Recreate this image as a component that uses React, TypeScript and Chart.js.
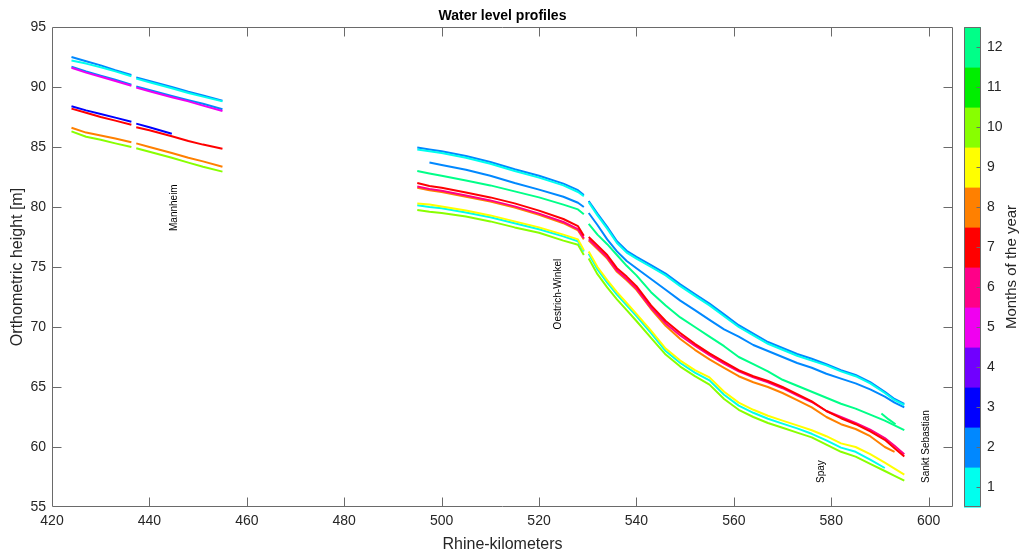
import React, { useEffect, useRef } from "react";
import { Chart, registerables } from "chart.js";

Chart.register(...registerables);

const FONT = "'Liberation Sans', Arial, Helvetica, sans-serif";
const AXIS_COLOR = "#6a6a6a";
const TEXT_COLOR = "#262626";

const monthLabels = ["1", "2", "3", "4", "5", "6", "7", "8", "9", "10", "11", "12"];
const monthColors = [
  "#00FFEE", "#0088FF", "#0000FF", "#7000FF", "#F000F0", "#FF0088",
  "#FF0000", "#FF8000", "#FFFF00", "#88FF00", "#00EE00", "#00FF88",
];

const xTickValues = [420, 440, 460, 480, 500, 520, 540, 560, 580, 600];
const yTickValues = [55, 60, 65, 70, 75, 80, 85, 90, 95];

// Upstream reach (Mannheim)
const upperKm = [424, 427, 430, 433, 436.3, 436.8, 437.3, 440, 444.6, 448, 451, 455];
const upperFebA = [92.5, 92.15, 91.8, 91.4, 91.0, null, 90.8, 90.5, 90.0, 89.6, 89.3, 88.85];
const upperJan = [92.2, 91.95, 91.65, 91.3, 90.9, null, 90.7, 90.4, 89.9, 89.5, 89.2, 88.8];
const upperMay = [91.6, 91.2, 90.85, 90.5, 90.1, null, 89.95, 89.65, 89.15, 88.8, 88.45, 88.0];
const upperFebB = [91.7, 91.3, 90.95, 90.6, 90.2, null, 90.05, 89.75, 89.25, 88.9, 88.6, 88.15];
const upperMar = [88.4, 88.05, 87.75, 87.45, 87.1, null, 86.95, 86.65, 86.1, null, null, null];
const upperJul = [88.2, 87.85, 87.5, 87.2, 86.85, null, 86.65, 86.4, 85.9, 85.5, 85.2, 84.85];
const upperAug = [86.6, 86.2, 85.95, 85.7, 85.4, null, 85.3, 85.0, 84.5, 84.1, 83.8, 83.35];
const upperOct = [86.3, 85.85, 85.6, 85.3, 85.0, null, 84.9, 84.6, 84.1, 83.7, 83.35, 82.95];

// Middle Rhine reach
const lowerKm = [495, 497.5, 500, 505, 510, 515, 520, 525, 528, 529.2, 529.7, 530.2, 532, 534, 536, 538, 540, 543, 546, 549, 552, 555, 558, 561, 564, 567, 570, 573, 576, 579, 582, 585, 588, 591, 593, 595];
const lowerJanA = [84.8, 84.65, 84.5, 84.1, 83.6, 83.0, 82.45, 81.8, 81.25, 80.9, null, 80.4, 79.3, 78.2, 77.0, 76.2, 75.7, 75.0, 74.3, 73.4, 72.6, 71.8, 70.9, 70.0, 69.3, 68.6, 68.1, 67.6, 67.2, 66.8, 66.3, 65.9, 65.3, 64.5, 63.9, 63.5];
const lowerFebA = [84.95, 84.8, 84.65, 84.25, 83.75, 83.15, 82.6, 81.95, 81.4, 81.0, null, 80.5, 79.45, 78.35, 77.15, 76.35, 75.85, 75.15, 74.45, 73.55, 72.75, 71.95, 71.05, 70.15, 69.45, 68.75, 68.25, 67.75, 67.35, 66.9, 66.4, 66.0, 65.4, 64.6, 64.0, 63.6];
const lowerFebB = [null, 83.7, 83.5, 83.1, 82.6, 82.0, 81.45, 80.85, 80.35, 80.0, null, 79.5, 78.5, 77.3, 76.3, 75.5, 74.9, 74.0, 73.1, 72.2, 71.4, 70.6, 69.8, 69.2, 68.5, 68.0, 67.5, 67.0, 66.6, 66.1, 65.7, 65.3, 64.8, 64.2, 63.7, 63.3];
const lowerDec = [83.0, 82.8, 82.6, 82.2, 81.8, 81.3, 80.8, 80.2, 79.8, 79.4, null, 78.6, 77.7, 76.9, 76.0, 75.1, 74.3, 72.9, 71.8, 70.8, 70.0, 69.2, 68.4, 67.5, 66.9, 66.3, 65.6, 65.1, 64.6, 64.1, 63.6, 63.2, 62.7, 62.2, 61.8, 61.4];
const lowerJul = [82.0, 81.75, 81.6, 81.2, 80.8, 80.3, 79.7, 79.0, 78.4, 77.6, null, 77.5, 76.8, 76.0, 74.9, 74.2, 73.4, 71.8, 70.5, 69.5, 68.6, 67.8, 67.1, 66.4, 65.9, 65.5, 65.0, 64.4, 63.8, 63.0, 62.4, 61.9, 61.3, 60.6, 59.9, 59.2];
const lowerJun = [81.7, 81.5, 81.35, 80.95, 80.55, 80.05, 79.45, 78.75, 78.15, 77.4, null, 77.3, 76.6, 75.8, 74.7, 74.0, 73.2, 71.6, 70.3, 69.3, 68.45, 67.65, 66.95, 66.3, 65.8, 65.4, 64.9, 64.3, 63.75, 63.0, 62.5, 62.0, 61.45, 60.75, 60.1, 59.4];
const lowerAug = [81.6, 81.4, 81.25, 80.85, 80.45, 79.95, 79.35, 78.65, 78.05, 77.3, null, 77.2, 76.5, 75.7, 74.6, 73.9, 73.1, 71.5, 70.1, 69.0, 68.1, 67.3, 66.6, 65.9, 65.4, 65.0, 64.5, 63.9, 63.3, 62.5, 61.9, 61.5, 60.9, 60.0, 59.6, null];
const lowerSep = [80.3, 80.2, 80.05, 79.7, 79.3, 78.8, 78.3, 77.7, 77.3, 76.4, null, 76.3, 75.0, 73.9, 72.9, 72.0, 71.1, 69.7, 68.2, 67.2, 66.4, 65.8, 64.6, 63.7, 63.1, 62.6, 62.2, 61.8, 61.4, 60.9, 60.3, 60.0, 59.4, 58.7, 58.2, 57.7];
const lowerJanB = [80.15, 80.0, 79.9, 79.55, 79.15, 78.65, 78.15, 77.55, 77.15, 76.3, null, 76.1, 74.8, 73.7, 72.7, 71.8, 70.9, 69.5, 68.0, 67.0, 66.2, 65.55, 64.35, 63.45, 62.85, 62.35, 61.95, 61.55, 61.1, 60.55, 59.95, 59.6, 58.95, 58.25, null, null];
const lowerOct = [79.75, 79.6, 79.5, 79.2, 78.8, 78.3, 77.85, 77.2, 76.85, 76.0, null, 75.7, 74.4, 73.3, 72.3, 71.4, 70.5, 69.1, 67.7, 66.7, 65.9, 65.2, 64.0, 63.1, 62.5, 62.0, 61.6, 61.2, 60.8, 60.2, 59.6, 59.2, 58.6, 58.0, 57.6, 57.2];
const extraDecKm = [590.3, 591.8, 593.2];
const extraDec = [62.8, 62.3, 61.9];

const placeNames = ["Mannheim", "Oestrich-Winkel", "Spay", "Sankt Sebastian"];
const placeKm = [445.2, 523.9, 578.0, 599.5];
const placeLevel = [78.0, 69.8, 57.0, 57.0];

function series(km: number[], vals: (number | null)[], month: number) {
  return {
    label: "Month " + month,
    data: km.map((k, i) => ({ x: k, y: vals[i] })),
    borderColor: monthColors[month - 1],
    backgroundColor: monthColors[month - 1],
    borderWidth: 2,
    pointRadius: 0,
    pointHoverRadius: 0,
    fill: false,
    spanGaps: false,
    tension: 0,
    borderJoinStyle: "round" as const,
  };
}

const decorPlugin = {
  id: "decor",
  afterDraw(chart: any) {
    const { ctx, chartArea: a, scales } = chart;
    const xs = scales.x;
    const ys = scales.y;
    const TICK = 9;
    ctx.save();
    // box
    ctx.strokeStyle = AXIS_COLOR;
    ctx.lineWidth = 1;
    const L = Math.round(a.left) + 0.5;
    const T = Math.round(a.top) + 0.5;
    const R = Math.round(a.right) - 0.5;
    const B = Math.round(a.bottom) - 0.5;
    ctx.beginPath();
    ctx.rect(L, T, R - L, B - T);
    for (const t of xTickValues) {
      const px = Math.round(xs.getPixelForValue(t)) + 0.5;
      if (px <= L + 1 || px >= R - 1) continue;
      ctx.moveTo(px, B);
      ctx.lineTo(px, B - TICK);
      ctx.moveTo(px, T);
      ctx.lineTo(px, T + TICK);
    }
    for (const t of yTickValues) {
      const py = Math.round(ys.getPixelForValue(t)) + 0.5;
      if (py <= T + 1 || py >= B - 1) continue;
      ctx.moveTo(L, py);
      ctx.lineTo(L + TICK, py);
      ctx.moveTo(R, py);
      ctx.lineTo(R - TICK, py);
    }
    ctx.stroke();

    // place annotations
    ctx.fillStyle = "#000";
    ctx.font = "10px " + FONT;
    ctx.textAlign = "left";
    ctx.textBaseline = "middle";
    placeNames.forEach((name, i) => {
      const px = xs.getPixelForValue(placeKm[i]);
      const py = ys.getPixelForValue(placeLevel[i]);
      ctx.save();
      ctx.translate(px, py);
      ctx.rotate(-Math.PI / 2);
      ctx.fillText(name, 0, 0);
      ctx.restore();
    });

    // title
    ctx.fillStyle = "#000";
    ctx.font = "bold 14px " + FONT;
    ctx.textAlign = "center";
    ctx.textBaseline = "middle";
    ctx.fillText("Water level profiles", (a.left + a.right) / 2, 16);

    // axis titles
    ctx.fillStyle = TEXT_COLOR;
    ctx.font = "16px " + FONT;
    ctx.fillText("Rhine-kilometers", (a.left + a.right) / 2, 545);
    ctx.save();
    ctx.translate(18, (a.top + a.bottom) / 2);
    ctx.rotate(-Math.PI / 2);
    ctx.fillText("Orthometric height [m]", 0, 0);
    ctx.restore();

    // colorbar
    const cbLeft = Math.round(a.right) + 11;
    const cbWidth = 17;
    const segH = (a.bottom - a.top) / 12;
    for (let i = 0; i < 12; i++) {
      ctx.fillStyle = monthColors[i];
      const yTop = a.bottom - (i + 1) * segH;
      ctx.fillRect(cbLeft, yTop, cbWidth, segH + 0.6);
    }
    ctx.strokeStyle = AXIS_COLOR;
    ctx.beginPath();
    ctx.rect(cbLeft + 0.5, T, cbWidth - 1, B - T);
    for (let i = 0; i < 12; i++) {
      const yc = Math.round(a.bottom - (i + 0.5) * segH) + 0.5;
      ctx.moveTo(cbLeft + cbWidth - 0.5, yc);
      ctx.lineTo(cbLeft + cbWidth - 4.5, yc);
    }
    ctx.stroke();
    ctx.fillStyle = TEXT_COLOR;
    ctx.font = "14px " + FONT;
    ctx.textAlign = "left";
    for (let i = 0; i < 12; i++) {
      const yc = a.bottom - (i + 0.5) * segH;
      ctx.fillText(monthLabels[i], cbLeft + cbWidth + 6, yc);
    }
    ctx.font = "15px " + FONT;
    ctx.textAlign = "center";
    ctx.save();
    ctx.translate(1012, (a.top + a.bottom) / 2);
    ctx.rotate(-Math.PI / 2);
    ctx.fillText("Months of the year", 0, 0);
    ctx.restore();

    ctx.restore();
  },
};

export default function App() {
  const ref = useRef<HTMLCanvasElement>(null);
  useEffect(() => {
    const datasets = [
      series(upperKm, upperMar, 3),
      series(upperKm, upperJul, 7),
      series(upperKm, upperMay, 5),
      series(upperKm, upperFebB, 2),
      series(upperKm, upperJan, 1),
      series(upperKm, upperFebA, 2),
      series(upperKm, upperAug, 8),
      series(upperKm, upperOct, 10),
      series(lowerKm, lowerJul, 7),
      series(lowerKm, lowerJun, 6),
      series(lowerKm, lowerAug, 8),
      series(lowerKm, lowerSep, 9),
      series(lowerKm, lowerJanB, 1),
      series(lowerKm, lowerOct, 10),
      series(lowerKm, lowerDec, 12),
      series(extraDecKm, extraDec, 12),
      series(lowerKm, lowerFebB, 2),
      series(lowerKm, lowerJanA, 1),
      series(lowerKm, lowerFebA, 2),
    ];
    const chart = new Chart(ref.current as HTMLCanvasElement, {
      type: "line",
      data: { datasets: datasets as any },
      options: {
        animation: false,
        responsive: true,
        maintainAspectRatio: false,
        parsing: true,
        events: [],
        layout: { padding: { left: 0, top: 27, right: 67, bottom: 0 } },
        plugins: {
          legend: { display: false },
          tooltip: { enabled: false },
          title: { display: false },
        },
        scales: {
          x: {
            type: "linear",
            min: 420,
            max: 605,
            afterBuildTicks: (scale: any) => {
              scale.ticks = xTickValues.map((v) => ({ value: v }));
            },
            afterFit: (scale: any) => {
              scale.height = 49;
            },
            grid: { display: false, drawTicks: false },
            border: { display: false },
            ticks: {
              padding: 6,
              maxRotation: 0,
              autoSkip: false,
              color: TEXT_COLOR,
              font: { family: FONT, size: 14 },
              callback: (v: any) => String(v),
            },
          },
          y: {
            type: "linear",
            min: 55,
            max: 95,
            afterBuildTicks: (scale: any) => {
              scale.ticks = yTickValues.map((v) => ({ value: v }));
            },
            afterFit: (scale: any) => {
              scale.width = 52;
            },
            grid: { display: false, drawTicks: false },
            border: { display: false },
            ticks: {
              padding: 6,
              autoSkip: false,
              color: TEXT_COLOR,
              font: { family: FONT, size: 14 },
              callback: (v: any) => String(v),
            },
          },
        },
      },
      plugins: [decorPlugin],
    });
    return () => chart.destroy();
  }, []);
  return (
    <div style={{ position: "absolute", left: 0, top: 0, width: 1020, height: 556, background: "#fff" }}>
      <canvas ref={ref} />
    </div>
  );
}
